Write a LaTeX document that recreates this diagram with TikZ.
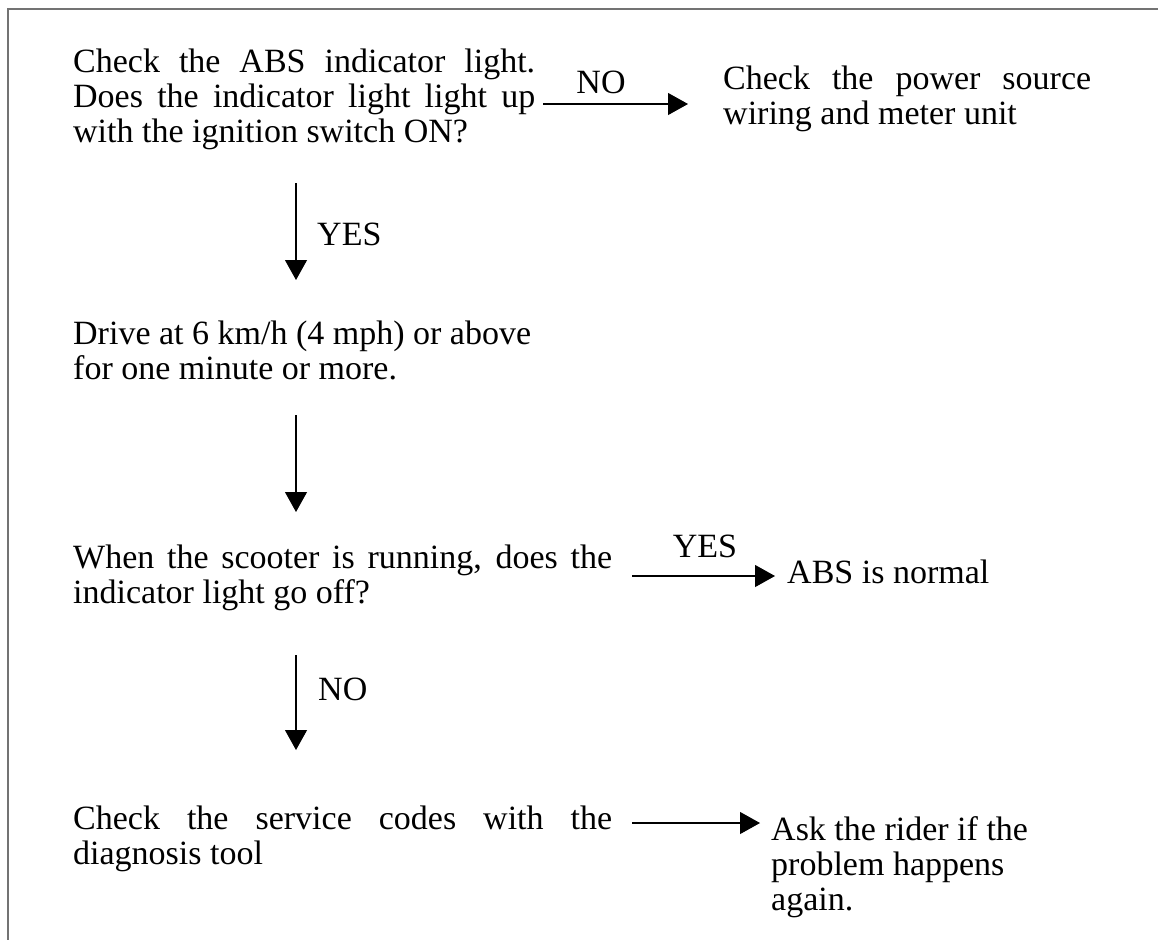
\documentclass[tikz,border=0pt]{standalone}
\usepackage{fontspec}
\setmainfont{Liberation Serif}
\usetikzlibrary{arrows.meta}
\hbadness=10000
\tikzset{
  txt/.style={font=\fontsize{34}{35}\selectfont, inner sep=0pt, anchor=base west, text=black},
  lbl/.style={font=\fontsize{34}{35}\selectfont, inner sep=0pt, text=black},
  conn/.style={draw=black, line width=1.1pt, -{Triangle[length=20pt,width=22pt]}},
  frame/.style={draw=black!55, line width=1.6pt}
}
\begin{document}
\begin{tikzpicture}[x=1pt,y=-1pt]
\useasboundingbox (0,0) rectangle (1158,940);
% frame
\coordinate (ftl) at (8,9);
\coordinate (ftr) at (1158,9);
\coordinate (fbl) at (8,940);
\draw[frame] (ftr) -- (ftl) -- (fbl);

% text blocks
\node[txt] (q1) at (73,72) {\parbox[t]{462pt}{Check the ABS indicator light.\linebreak Does the indicator light light up\linebreak with the ignition switch ON?}};
\node[txt] (r1) at (723,89) {\parbox[t]{368pt}{Check the power source\linebreak wiring and meter unit}};
\node[txt] (d1) at (73,344) {\parbox[t]{480pt}{\raggedright Drive at 6 km/h (4 mph) or above\\ for one minute or more.}};
\node[txt] (q2) at (73,568) {\parbox[t]{539pt}{When the scooter is running, does the\linebreak indicator light go off?}};
\node[txt] (r2) at (787,583) {ABS is normal};
\node[txt] (c1) at (73,829) {\parbox[t]{539pt}{Check the service codes with the\linebreak diagnosis tool}};
\node[txt] (r3) at (771,840) {\parbox[t]{360pt}{\raggedright Ask the rider if the\\ problem happens\\ again.}};

% connector ends
\coordinate (a1s) at (543,104);  \coordinate (a1e) at (688,104);
\coordinate (v1s) at (296,183);  \coordinate (v1e) at (296,280);
\coordinate (v2s) at (296,415);  \coordinate (v2e) at (296,512);
\coordinate (a2s) at (632,576);  \coordinate (a2e) at (775,576);
\coordinate (v3s) at (296,655);  \coordinate (v3e) at (296,750);
\coordinate (a3s) at (632,823);  \coordinate (a3e) at (760,823);

\draw[conn] (a1s) -- (a1e);
\draw[conn] (v1s) -- (v1e);
\draw[conn] (v2s) -- (v2e);
\draw[conn] (a2s) -- (a2e);
\draw[conn] (v3s) -- (v3e);
\draw[conn] (a3s) -- (a3e);

% labels
\node[lbl, anchor=base] (l1) at (601,93) {NO};
\node[lbl, anchor=base west] (l2) at (317,245) {YES};
\node[lbl, anchor=base] (l3) at (705,557) {YES};
\node[lbl, anchor=base west] (l4) at (318,700) {NO};
\end{tikzpicture}
\end{document}
